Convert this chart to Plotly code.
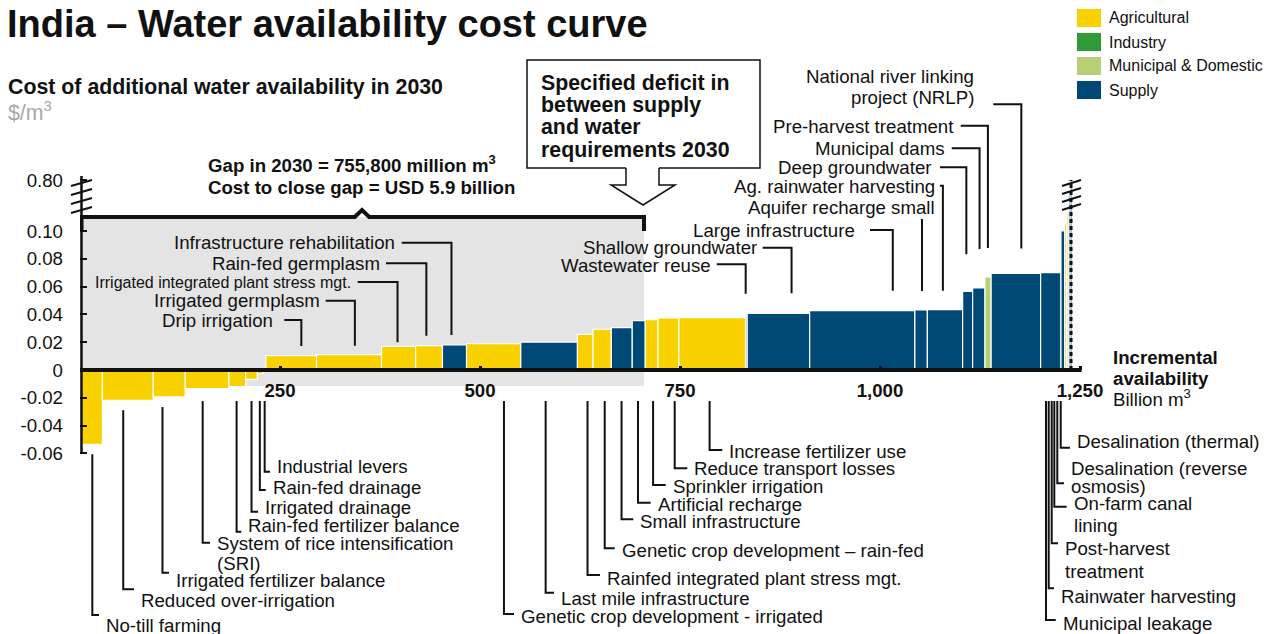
import plotly.graph_objects as go

# ---------------- data ----------------
LEVERS = [
    "No-till farming", "Reduced over-irrigation", "Irrigated fertilizer balance",
    "System of rice intensification (SRI)", "Rain-fed fertilizer balance", "Irrigated drainage",
    "Rain-fed drainage", "Industrial levers", "Drip irrigation", "Irrigated germplasm",
    "Irrigated integrated plant stress mgt.", "Rain-fed germplasm", "Infrastructure rehabilitation",
    "Genetic crop development - irrigated", "Last mile infrastructure",
    "Rainfed integrated plant stress mgt.", "Genetic crop development – rain-fed",
    "Small infrastructure", "Artificial recharge", "Sprinkler irrigation",
    "Reduce transport losses", "Increase fertilizer use", "Wastewater reuse",
    "Shallow groundwater", "Large infrastructure", "Aquifer recharge small",
    "Ag. rainwater harvesting", "Deep groundwater", "Municipal dams", "Pre-harvest treatment",
    "National river linking project (NRLP)", "Municipal leakage", "Rainwater harvesting",
    "Post-harvest treatment", "On-farm canal lining", "Desalination (reverse osmosis)",
    "Desalination (thermal)",
]
# incremental availability, billion m3
WIDTHS = [28, 63.5, 40, 54.6, 21, 14.6, 6.9, 3.7, 63.4, 81.2, 42.6, 33.6, 30, 67.9, 70.6,
          19.7, 22.8, 26.2, 16, 16.2, 26.1, 83.5, 1.9, 78.1, 131.5, 15.6, 44.1, 12.5, 15.2,
          7.9, 61.9, 25.4, 4.6, 2.3, 2.3, 2.3, 2.3]
# cost, $/m3
COSTS = [-0.0535, -0.0218, -0.0194, -0.0134, -0.0120, -0.0067, -0.0027, -0.0012, 0.0103,
         0.0110, 0.0170, 0.0175, 0.0180, 0.0189, 0.0201, 0.0257, 0.0293, 0.0305, 0.0355,
         0.0363, 0.0374, 0.0376, 0.0390, 0.0408, 0.0427, 0.0432, 0.0434, 0.0566, 0.0590,
         0.0669, 0.0695, 0.0700, 0.1030, 0.20, 0.35, 0.60, 0.80]
SECTOR = [
    "Agricultural", "Agricultural", "Agricultural", "Agricultural", "Agricultural", "Agricultural",
    "Agricultural", "Industry", "Agricultural", "Agricultural", "Agricultural", "Agricultural",
    "Supply", "Agricultural", "Supply", "Agricultural", "Agricultural", "Supply", "Supply",
    "Agricultural", "Agricultural", "Agricultural", "Supply", "Supply", "Supply", "Supply",
    "Supply", "Supply", "Supply", "Municipal & Domestic", "Supply", "Supply", "Supply",
    "Municipal & Domestic", "Agricultural", "Supply", "Supply",
]
SECTORS = ["Agricultural", "Industry", "Municipal & Domestic", "Supply"]

Y_TICKS = [-0.06, -0.04, -0.02, 0, 0.02, 0.04, 0.06, 0.08, 0.10]
Y_TICK_TEXT = ["-0.06", "-0.04", "-0.02", "0", "0.02", "0.04", "0.06", "0.08", "0.10"]
Y_BREAK_VALUE = 0.80
Y_BREAK_TEXT = "0.80"
X_TICKS = [250, 500, 750, 1000, 1250]
X_TICK_TEXT = ["250", "500", "750", "1,000", "1,250"]

GAP_END = 705  # billion m3, right edge of the shaded "gap" region
GAP_TEXT = ["Gap in 2030 = 755,800 million m<sup>3</sup>", "Cost to close gap = USD 5.9 billion"]
CALLOUT_TEXT = ["Specified deficit in", "between supply", "and water", "requirements 2030"]
TITLE = "India – Water availability cost curve"
SUBTITLE = "Cost of additional water availability in 2030"
UNIT = "$/m<sup>3</sup>"

# ---------------- styles / geometry ----------------
COLORS = {"Agricultural": "#F9D100", "Industry": "#2E9B37",
          "Municipal & Domestic": "#B6CF74", "Supply": "#004876"}
FONT = "Liberation Sans, Arial, sans-serif"
F = 18.67
INK = "#111111"

PAGE_W, PAGE_H = 1273, 634
OFF = 8                      # default page margin around the figure
W, H = PAGE_W - OFF, PAGE_H - OFF
PLOT_L = 80                  # page px of plot-area left edge
ML = PLOT_L - OFF
X0_PX, Y0_PX = 80.0, 370.0   # page px of x=0 / y=0
SX, SY = 0.8, 1390.0         # px per unit


def xd(px): return (px - X0_PX) / SX
def yd(py): return (Y0_PX - py) / SY
def xpx(x): return X0_PX + x * SX
def ypx(y): return Y0_PX - y * SY
def xp(px): return (px - PLOT_L) / (PAGE_W - PLOT_L)
def yp(py): return (PAGE_H - py) / (PAGE_H - OFF)


BREAK_TOP = yd(180)


def disp(v):
    if v <= 0.10:
        return v
    return 0.10 + (v - 0.10) * (BREAK_TOP - 0.10) / (Y_BREAK_VALUE - 0.10)


def ppath(points, close=False):
    s = "M " + " L ".join(f"{xp(x):.5f},{yp(y):.5f}" for x, y in points)
    return s + (" Z" if close else "")


def dpath(points):
    return "M " + " L ".join(f"{x:.4f},{y:.6f}" for x, y in points)


# label layout (page-pixel positions of text & leader elbows), same order as LEVERS
# side, lines, text_x, text_ys, elbow_y, hline_start, frac_in_bar, gap_px, size, leader_px
LABEL_LAYOUT = [
    ("R", ["No-till farming"], 105, [625], 615, None, 0.55, None, F, None),
    ("R", ["Reduced over-irrigation"], 140, [600], 589.3, None, 0.41, None, F, None),
    ("R", ["Irrigated fertilizer balance"], 175, [580], 572.7, None, 0.29, None, F, None),
    ("R", ["System of rice intensification", "(SRI)"], 216, [543, 563], 542.7, None, 0.40, None, F, None),
    ("R", ["Rain-fed fertilizer balance"], 247.3, [525], 531.7, None, 0.46, None, F, None),
    ("R", ["Irrigated drainage"], 264, [507], 511.7, None, 0.5, None, F, None),
    ("R", ["Rain-fed drainage"], 271.7, [487], 490, None, 0.45, None, F, None),
    ("R", ["Industrial levers"], 276, [466.5], 471.7, None, 0.6, None, F, None),
    ("L", ["Drip irrigation"], 274.3, [320], 320, 284.3, 0.70, 9.7, F, None),
    ("L", ["Irrigated germplasm"], 321, [300.7], 300.7, 325.7, 0.59, 9, F, None),
    ("L", ["Irrigated integrated plant stress mgt."], 351.7, [282], 282, 357.7, 0.47, 4, 16, None),
    ("L", ["Rain-fed germplasm"], 381, [263.3], 263.3, 386, 0.40, 10, F, None),
    ("L", ["Infrastructure rehabilitation"], 395.5, [242.7], 242.7, 401.7, 0.375, 10, F, None),
    ("R", ["Genetic crop development - irrigated"], 520, [616.7], 614, None, 0.69, None, F, None),
    ("R", ["Last mile infrastructure"], 560, [598.3], 592.7, None, 0.44, None, F, None),
    ("R", ["Rainfed integrated plant stress mgt."], 606, [578.3], 575, None, 0.65, None, F, None),
    ("R", ["Genetic crop development – rain-fed"], 620.7, [550], 548.3, None, 0.64, None, F, None),
    ("R", ["Small infrastructure"], 639.3, [521.7], 519.3, None, 0.49, None, F, None),
    ("R", ["Artificial recharge"], 656.7, [504], 502.7, None, 0.45, None, F, None),
    ("R", ["Sprinkler irrigation"], 671.7, [486], 485, None, 0.62, None, F, None),
    ("R", ["Reduce transport losses"], 693.3, [468.3], 468.3, None, 0.8, None, F, None),
    ("R", ["Increase fertilizer use"], 728.3, [451], 450, None, 0.46, None, F, None),
    ("L", ["Wastewater reuse"], 711.7, [265], 264.3, 716.7, 0.0, 22, F, None),
    ("L", ["Shallow groundwater"], 757.7, [247.7], 247.7, 762.7, 0.71, 20, F, None),
    ("L", ["Large infrastructure"], 856, [230], 230, 870, 0.79, 20, F, None),
    ("L", ["Aquifer recharge small"], 936, [207], 219, None, 0.57, 19, F, None),
    ("L", ["Ag. rainwater harvesting"], 936, [186], 185.7, 940, 0.44, 19, F, None),
    ("L", ["Deep groundwater"], 933, [167], 167.3, 940, 0.37, 37, F, None),
    ("L", ["Municipal dams"], 945.5, [148], 148.3, 951.7, 0.57, 39, F, None),
    ("L", ["Pre-harvest treatment"], 955, [126.5], 125.7, 960.7, 0.49, 29, F, None),
    ("L", ["National river linking", "project (NRLP)"], 975, [76, 97], 104.3, 993.3, 0.61, 25, F, None),
    ("R", ["Municipal leakage"], 1061.7, [623.3], 620, None, None, None, F, 1046),
    ("R", ["Rainwater harvesting"], 1060, [596.7], 588.3, None, None, None, F, 1048.7),
    ("R", ["Post-harvest", "treatment"], 1064, [548.3, 571], 543.3, None, None, None, F, 1051.7),
    ("R", ["On-farm canal", "lining"], 1072.7, [503.3, 525.7], 506.7, None, None, None, F, 1054.3),
    ("R", ["Desalination (reverse", "osmosis)"], 1070, [468.3, 486.7], 483.3, None, None, None, F, 1057.3),
    ("R", ["Desalination (thermal)"], 1076, [441.7], 447.7, None, None, None, F, 1060.7),
]

# ---------------- bars ----------------
lefts, acc = [], 0.0
for w in WIDTHS:
    lefts.append(acc)
    acc += w
total = acc
centers = [l + w / 2 for l, w in zip(lefts, WIDTHS)]

fig = go.Figure()
for s in SECTORS:
    idx = [i for i, c in enumerate(SECTOR) if c == s]
    fig.add_trace(go.Bar(
        x=[centers[i] for i in idx], y=[disp(COSTS[i]) for i in idx],
        width=[WIDTHS[i] for i in idx], name=s,
        hovertext=[LEVERS[i] for i in idx],
        marker=dict(color=COLORS[s], line=dict(color="white", width=1.2)),
        showlegend=False,
    ))

shapes, anns = [], []


def text(x, y, t, size=F, anchor="left", color=INK, ref="paper"):
    anns.append(dict(x=x, y=y, xref=ref, yref=ref, text=t, showarrow=False,
                     xanchor=anchor, yanchor="middle", borderpad=0,
                     font=dict(family=FONT, size=size, color=color)))


# shaded gap region + bracket
shapes.append(dict(type="rect", xref="x", yref="y", x0=0, x1=GAP_END, y0=yd(386), y1=yd(217),
                   fillcolor="#E4E4E4", line=dict(width=0), layer="below"))
mid = GAP_END / 2
shapes.append(dict(type="path", xref="x", yref="y", layer="above",
                   path=dpath([(xd(81.5), yd(231)), (xd(81.5), yd(217)), (mid - 9, yd(217)),
                               (mid, yd(210)), (mid + 9, yd(217)), (GAP_END, yd(217)),
                               (GAP_END, yd(231))]),
                   line=dict(color=INK, width=4)))

# zero line
shapes.append(dict(type="line", xref="x", yref="y", x0=0, x1=X_TICKS[-1] + 2, y0=0, y1=0,
                   line=dict(color=INK, width=4), layer="above"))
# y axis line (paper coords so it is not clipped)
shapes.append(dict(type="line", xref="paper", yref="paper", x0=xp(81.5), x1=xp(81.5),
                   y0=yp(ypx(Y_TICKS[0])), y1=yp(217), line=dict(color=INK, width=2.5)))
# left axis break
shapes.append(dict(type="line", xref="paper", yref="paper", x0=xp(81.5), x1=xp(81.5),
                   y0=yp(176), y1=yp(217), line=dict(color=INK, width=2.5)))
for hy in [183, 192, 201, 210]:
    shapes.append(dict(type="line", xref="paper", yref="paper", x0=xp(71), x1=xp(92),
                       y0=yp(hy + 3), y1=yp(hy - 3), line=dict(color=INK, width=2)))

# end-of-curve dashed marker and break
end_px = xpx(total)
shapes.append(dict(type="line", xref="x", yref="y", x0=total - 1.2, x1=total - 1.2, y0=0,
                   y1=disp(max(COSTS)), line=dict(color=INK, width=3, dash="4px,3px"), layer="above"))
for hy in [183, 191, 199, 207]:
    shapes.append(dict(type="line", xref="paper", yref="paper", x0=xp(end_px - 10), x1=xp(end_px + 9),
                       y0=yp(hy + 3), y1=yp(hy - 3), line=dict(color=INK, width=2)))

# leaders + labels
for i, spec in enumerate(LABEL_LAYOUT):
    side, lines, tx, tys, ey, hx, frac, gap, size, lx = spec
    lxd = xd(lx) if lx is not None else lefts[i] + frac * WIDTHS[i]
    if side == "L":
        top_px = ypx(disp(COSTS[i]))
        pts = []
        if hx is not None:
            pts.append((xd(hx), yd(ey)))
        pts += [(lxd, yd(ey)), (lxd, yd(top_px - gap))]
    else:
        bottom_px = ypx(min(disp(COSTS[i]), 0))
        start_px = max(bottom_px + 10, 401)
        pts = [(lxd, yd(start_px)), (lxd, yd(ey)), (xd(tx - 6), yd(ey))]
    shapes.append(dict(type="path", xref="x", yref="y", path=dpath(pts),
                       line=dict(color=INK, width=2), layer="above"))
    for ln, ty in zip(lines, tys):
        text(xd(tx), yd(ty), ln, size=size, anchor="right" if side == "L" else "left", ref="x")
        anns[-1]["yref"] = "y"

# titles
text(xp(6), yp(24), f"<b>{TITLE}</b>", size=38)
text(xp(7), yp(87), f"<b>{SUBTITLE}</b>", size=21.33)
text(xp(7), yp(111), UNIT, size=21.33, color="#A3AAAA")

# gap text
for t, y in zip(GAP_TEXT, [164, 187]):
    text(xp(207), yp(y), f"<b>{t}</b>", size=F)

# callout box with arrow
shapes.append(dict(type="path", xref="paper", yref="paper",
                   path=ppath([(626, 168), (527, 168), (527, 60), (760, 60), (760, 168), (659, 168)]),
                   line=dict(color=INK, width=1.5)))
shapes.append(dict(type="path", xref="paper", yref="paper",
                   path=ppath([(626, 168), (626, 185), (611, 185), (643, 205), (675, 185),
                               (659, 185), (659, 168)]),
                   line=dict(color=INK, width=1.5), fillcolor="white"))
for t, y in zip(CALLOUT_TEXT, [83, 105, 127.5, 150]):
    text(xp(540), yp(y), f"<b>{t}</b>", size=21.33)

# x axis title
text(xp(1112), yp(357), "<b>Incremental</b>", size=F)
text(xp(1112), yp(378), "<b>availability</b>", size=F)
text(xp(1112), yp(398), "Billion m<sup>3</sup>", size=F)

# legend
for k, s in enumerate(SECTORS):
    cy = 18 + 24 * k
    shapes.append(dict(type="rect", xref="paper", yref="paper", x0=xp(1077), x1=xp(1101),
                       y0=yp(cy + 9), y1=yp(cy - 9), fillcolor=COLORS[s], line=dict(width=0)))
    text(xp(1108), yp(cy), s, size=16)

yvals = [disp(v) for v in Y_TICKS] + [disp(Y_BREAK_VALUE)]
ytext = Y_TICK_TEXT + [Y_BREAK_TEXT]

fig.update_layout(
    width=W, height=H, margin=dict(l=ML, r=0, t=0, b=0),
    paper_bgcolor="white", plot_bgcolor="white", barmode="overlay",
    showlegend=False, shapes=shapes, annotations=anns,
    font=dict(family=FONT, color=INK),
    xaxis=dict(range=[xd(PLOT_L), xd(PAGE_W)], anchor="free", position=yp(370), side="bottom",
               showgrid=False, zeroline=False, showline=False,
               tickmode="array", tickvals=X_TICKS, ticktext=X_TICK_TEXT,
               ticks="inside", ticklen=4, tickwidth=3, tickcolor=INK,
               tickfont=dict(family=FONT, size=F, color=INK, weight="bold"),
               ticklabelstandoff=7),
    yaxis=dict(range=[yd(PAGE_H), yd(OFF)], showgrid=False, zeroline=False, showline=False,
               tickmode="array", tickvals=yvals, ticktext=ytext,
               ticks="inside", ticklen=7, tickwidth=2, tickcolor=INK,
               tickfont=dict(family=FONT, size=F, color=INK), ticklabelstandoff=16),
)

fig.write_html("out.html")
